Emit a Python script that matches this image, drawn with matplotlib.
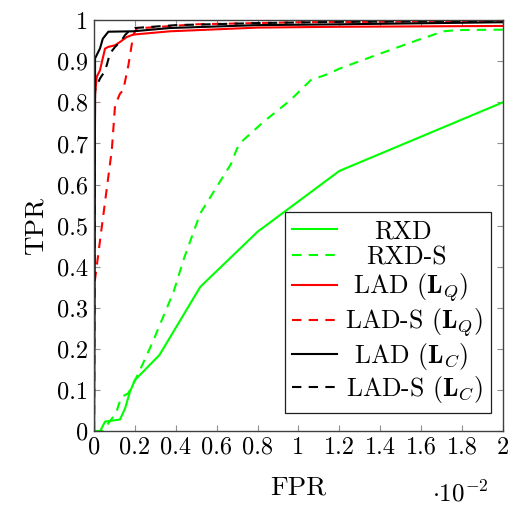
import numpy as np
import matplotlib
matplotlib.use("Agg")
import matplotlib.pyplot as plt

plt.rcParams['font.family'] = 'serif'
plt.rcParams['font.serif'] = ['cmr10']
plt.rcParams['mathtext.fontset'] = 'cm'
plt.rcParams['axes.formatter.use_mathtext'] = True

# ROC curves, FPR in units of 1e-2
rxd_fpr = [0, 0.03, 0.054, 0.127, 0.152, 0.176, 0.2, 0.32, 0.52, 0.8, 1.2, 2.0]
rxd_tpr = [0, 0.0, 0.023, 0.028, 0.055, 0.096, 0.124, 0.185, 0.351, 0.485, 0.633, 0.80]

rxds_fpr = [0, 0.04, 0.08, 0.11, 0.12, 0.135, 0.168, 0.217, 0.24, 0.29, 0.39, 0.44,
            0.52, 0.57, 0.67, 0.70, 0.73, 0.83, 0.96, 1.06, 1.15, 1.2, 1.38, 1.58,
            1.71, 1.78, 2.0]
rxds_tpr = [0, 0.0, 0.025, 0.047, 0.063, 0.083, 0.092, 0.14, 0.165, 0.22, 0.34, 0.42,
            0.53, 0.57, 0.65, 0.688, 0.708, 0.753, 0.805, 0.854, 0.87, 0.882, 0.915, 0.951,
            0.973, 0.976, 0.977]

ladq_fpr = [0, 0.005, 0.013, 0.029, 0.054, 0.07, 0.103, 0.127, 0.16, 0.192, 0.372, 0.8, 1.2, 2.0]
ladq_tpr = [0, 0.818, 0.862, 0.878, 0.931, 0.935, 0.939, 0.947, 0.959, 0.965, 0.973, 0.982, 0.984, 0.986]

ladsq_fpr = [0, 0.0, 0.038, 0.087, 0.103, 0.127, 0.143, 0.168, 0.184, 0.192, 0.209, 0.5, 1.0, 2.0]
ladsq_tpr = [0, 0.35, 0.497, 0.684, 0.793, 0.821, 0.83, 0.89, 0.939, 0.964, 0.98, 0.99, 0.995, 0.998]

ladc_fpr = [0, 0.005, 0.005, 0.013, 0.029, 0.043, 0.07, 0.192, 0.372, 0.8, 1.2, 2.0]
ladc_tpr = [0, 0.793, 0.907, 0.915, 0.931, 0.955, 0.972, 0.973, 0.981, 0.988, 0.99, 0.995]

ladsc_fpr = [0, 0.005, 0.029, 0.045, 0.062, 0.078, 0.103, 0.135, 0.152, 0.176, 0.2, 0.4, 0.8, 1.2, 2.0]
ladsc_tpr = [0, 0.83, 0.858, 0.87, 0.89, 0.919, 0.935, 0.951, 0.964, 0.976, 0.981, 0.988, 0.993, 0.996, 0.998]

x_ticks = np.arange(0, 2.01, 0.2)
x_labels = ['0', '0.2', '0.4', '0.6', '0.8', '1', '1.2', '1.4', '1.6', '1.8', '2']
y_ticks = np.arange(0, 1.01, 0.1)
y_labels = ['0', '0.1', '0.2', '0.3', '0.4', '0.5', '0.6', '0.7', '0.8', '0.9', '1']

fig = plt.figure(figsize=(5.11, 5.05), dpi=100)
ax = fig.add_axes([0.184, 0.1465, 0.800, 0.8135])

lw = 1.5
dash = (4.5, 3.5)
ax.plot(rxd_fpr, rxd_tpr, color='#00ff00', lw=lw, label='RXD')
ax.plot(rxds_fpr, rxds_tpr, color='#00ff00', lw=lw, dashes=dash, label='RXD-S')
ax.plot(ladq_fpr, ladq_tpr, color='#ff0000', lw=lw, label=r'LAD ($\mathbf{L}_Q$)')
ax.plot(ladsq_fpr, ladsq_tpr, color='#ff0000', lw=lw, dashes=dash, label=r'LAD-S ($\mathbf{L}_Q$)')
ax.plot(ladc_fpr, ladc_tpr, color='black', lw=lw, label=r'LAD ($\mathbf{L}_C$)')
ax.plot(ladsc_fpr, ladsc_tpr, color='black', lw=lw, dashes=dash, label=r'LAD-S ($\mathbf{L}_C$)')

ax.set_xlim(0, 2)
ax.set_ylim(0, 1)
ax.set_xticks(x_ticks)
ax.set_xticklabels(x_labels)
ax.set_yticks(y_ticks)
ax.set_yticklabels(y_labels)
ax.tick_params(direction='in', top=True, right=True, length=4, width=0.8,
               color='#909090', labelsize=17.5, pad=4)
for s in ax.spines.values():
    s.set_color('#404040')
    s.set_linewidth(1.0)

ax.set_xlabel('FPR', fontsize=19.5, labelpad=12)
ax.set_ylabel('TPR', fontsize=19.5, labelpad=7)
ax.text(0.965, -0.12, r'$\cdot 10^{-2}$', transform=ax.transAxes, fontsize=18,
        ha='right', va='top')

leg = ax.legend(loc='lower right', bbox_to_anchor=(0.971, 0.044), borderaxespad=0,
                fontsize=18.5, handlelength=1.75, handletextpad=0.3,
                labelspacing=0.08, borderpad=0.3, fancybox=False, framealpha=1)
leg.get_frame().set_edgecolor('#202020')
leg.get_frame().set_linewidth(0.9)

# center the legend entries in their column
fig.canvas.draw()
texts = leg.get_texts()
widths = [t.get_window_extent().width for t in texts]
wmax = max(widths)
for t, w in zip(texts, widths):
    t.set_x((wmax - w) / 2 * 72 / fig.dpi)

fig.savefig('out.png', dpi=100)
